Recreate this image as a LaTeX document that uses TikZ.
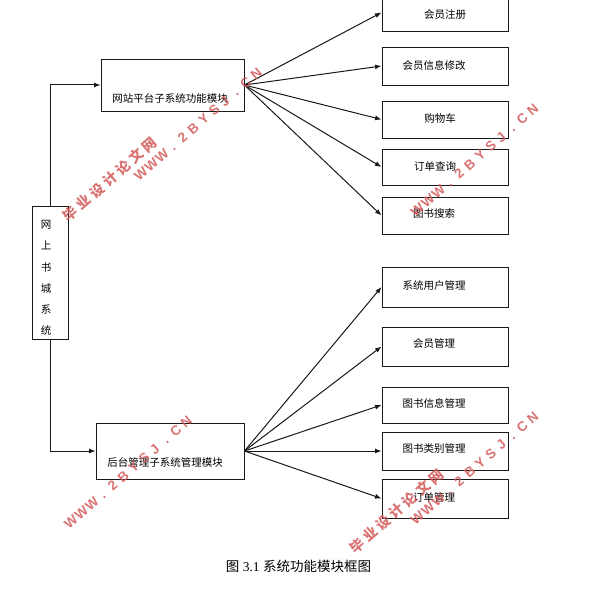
\documentclass[tikz,border=0pt]{standalone}
\usepackage{fontspec}
\setmainfont{Liberation Serif}
\newfontfamily\cjk{Noto Sans CJK SC}
\newfontfamily\wmsans{Liberation Sans}
\usetikzlibrary{arrows.meta}
\definecolor{wmred}{RGB}{212,90,90}
\newcommand\wc[1]{\makebox[17.5bp]{#1}}
\newcommand\wl[1]{\makebox[13.9bp]{#1}}
\newcommand\wmcn{\cjk\bfseries\fontsize{14bp}{14bp}\selectfont\wc{毕}\wc{业}\wc{设}\wc{计}\wc{论}\wc{文}\wc{网}}
\newcommand\wmen{\wmsans\bfseries\fontsize{13.5bp}{13.5bp}\selectfont\wl{W}\wl{W}\wl{W}\wl{.}\wl{2}\wl{B}\wl{Y}\wl{S}\wl{J}\wl{.}\wl{C}\wl{N}}
\tikzset{
  box/.style={draw=black!90, line width=0.95bp, rectangle, inner sep=0pt},
  lbl/.style={font=\cjk\fontsize{10.5bp}{12bp}\selectfont, inner sep=0pt, text=black},
  conn/.style={line width=1bp, draw=black!90, -{Latex[length=6.5bp,width=5bp]}},
  wm/.style={rotate=41, text=wmred, opacity=0.85, inner sep=0pt}
}
\begin{document}
\begin{tikzpicture}[x=1bp,y=-1bp]
\fill[white] (0,0) rectangle (591,591);
\useasboundingbox (0,0) rectangle (591,591);

% main boxes
\node[box, minimum width=36bp, minimum height=133bp] (sys) at (50,272.5) {};
\node[lbl, align=center, font=\cjk\fontsize{10.5bp}{21.2bp}\selectfont] (systxt) at (46,278) {网\\上\\书\\城\\系\\统};
\node[box, minimum width=143bp, minimum height=52bp] (front) at (172.5,85) {};
\node[lbl] (fronttxt) at (170,99) {网站平台子系统功能模块};
\node[box, minimum width=148bp, minimum height=56bp] (back) at (170,451) {};
\node[lbl] (backtxt) at (165,462) {后台管理子系统管理模块};

% right boxes
\node[box, minimum width=126bp, minimum height=37bp] (r1) at (445,12.5) {};
\node[box, minimum width=126bp, minimum height=38bp] (r2) at (445,66) {};
\node[box, minimum width=126bp, minimum height=37bp] (r3) at (445,119.5) {};
\node[box, minimum width=126bp, minimum height=36bp] (r4) at (445,167) {};
\node[box, minimum width=126bp, minimum height=37bp] (r5) at (445,215.5) {};
\node[box, minimum width=126bp, minimum height=40bp] (r6) at (445,287) {};
\node[box, minimum width=126bp, minimum height=39bp] (r7) at (445,346.5) {};
\node[box, minimum width=126bp, minimum height=36bp] (r8) at (445,405) {};
\node[box, minimum width=126bp, minimum height=38bp] (r9) at (445,451) {};
\node[box, minimum width=126bp, minimum height=39bp] (r10) at (445,498.5) {};

\node[lbl] (t1) at (445,15) {会员注册};
\node[lbl] (t2) at (434,65) {会员信息修改};
\node[lbl] (t3) at (440,118) {购物车};
\node[lbl] (t4) at (435,167) {订单查询};
\node[lbl] (t5) at (434,214) {图书搜索};
\node[lbl] (t6) at (434,286) {系统用户管理};
\node[lbl] (t7) at (434,344) {会员管理};
\node[lbl] (t8) at (434,403) {图书信息管理};
\node[lbl] (t9) at (434,449) {图书类别管理};
\node[lbl] (t10) at (434,497) {订单管理};

% connectors
\draw[conn] (sys.north) |- (front.west);
\draw[conn] (sys.south) |- (back.west);
\foreach \r in {r1,r2,r3,r4,r5} \draw[conn] (front.east) -- (\r.west);
\foreach \r in {r6,r7,r8,r9,r10} \draw[conn] (back.east) -- (\r.west);

% caption
\node[inner sep=0pt, font=\fontsize{13.5bp}{15bp}\selectfont] (cap) at (298.5,566) {{\cjk 图} 3.1 {\cjk 系统功能模块框图}};

% watermarks
\node[wm] (wm1) at (110,179) {\wmcn};
\node[wm] (wm2) at (198.5,124) {\wmen};
\node[wm] (wm3) at (475,160) {\wmen};
\node[wm] (wm4) at (128.5,472) {\wmen};
\node[wm] (wm5) at (396.5,511) {\wmcn};
\node[wm] (wm6) at (475,467.5) {\wmen};
\end{tikzpicture}
\end{document}
